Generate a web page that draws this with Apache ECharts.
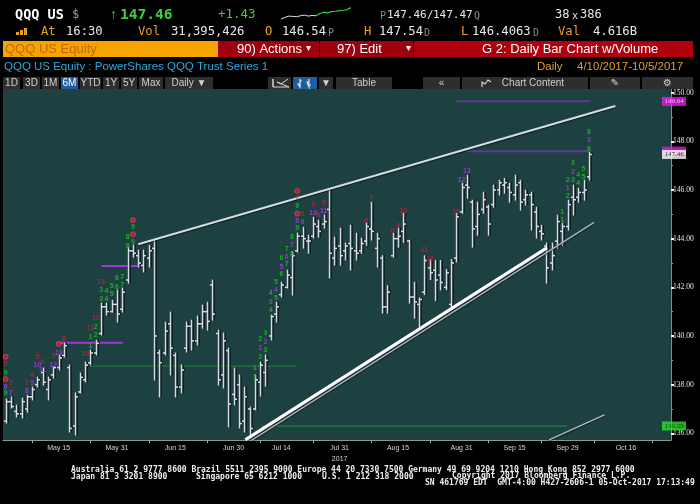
<!DOCTYPE html>
<html><head><meta charset="utf-8">
<script src="https://cdn.jsdelivr.net/npm/echarts@6/dist/echarts.min.js"></script>
<style>html,body{margin:0;padding:0;background:#000;overflow:hidden}#c{width:700px;height:504px}</style>
</head><body><div id="c"></div><script>
// ---------- DATA ----------
const tradingMonths = [
  ['May',[1,2,3,4,5,8,9,10,11,12,15,16,17,18,19,22,23,24,25,26,30,31]],
  ['Jun',[1,2,5,6,7,8,9,12,13,14,15,16,19,20,21,22,23,26,27,28,29,30]],
  ['Jul',[3,5,6,7,10,11,12,13,14,17,18,19,20,21,24,25,26,27,28,31]],
  ['Aug',[1,2,3,4,7,8,9,10,11,14,15,16,17,18,21,22,23,24,25,28,29,30,31]],
  ['Sep',[1,5,6,7,8,11,12,13,14,15,18,19,20,21,22,25,26,27,28,29]],
  ['Oct',[2,3,4,5,6,9,10,11,12,13,16,17,18,19,20,23,24,25,26]]
];
const categories = [];
tradingMonths.forEach(([m, ds]) => ds.forEach(d => categories.push(m + ' ' + d)));
const xTickLabels = ['May 15','May 31','Jun 15','Jun 30','Jul 14','Jul 31','Aug 15','Aug 31','Sep 15','Sep 29','Oct 16'];
const xTickMarks = [5,16,27,38,48,58,69,80,91,101,111,122];
const yTickLabels = [136,138,140,142,144,146,148,150];
const yMinorTicks = [137,139,141,143,145,147,149];

const opens  = [136.5,137.3,136.9,136.8,137.0,137.5,138.0,138.5,137.8,138.4,138.7,139.2,138.7,136.3,137.7,138.2,138.9,139.3,140.1,141.2,141.0,141.3,141.1,142.3,143.5,143.3,142.9,143.2,143.6,139.3,139.3,140.5,139.2,137.9,139.5,140.4,139.8,140.5,141.0,142.1,140.1,138.4,139.4,137.6,138.0,136.5,137.0,137.0,138.1,138.5,140.0,140.9,141.7,142.0,142.4,143.5,144.1,143.9,144.1,144.5,144.6,145.2,143.2,143.7,143.5,143.8,143.5,143.5,143.9,144.4,143.6,143.2,141.2,143.3,144.0,144.3,143.9,141.6,141.3,141.8,142.8,142.7,142.5,142.0,141.3,143.2,145.1,146.2,145.5,144.5,145.2,145.3,145.4,146.0,146.2,146.1,145.8,146.3,145.6,145.8,145.1,144.3,143.7,143.0,143.9,144.3,144.5,145.7,145.7,145.9,146.54];
const highs  = [137.41,137.49,137.16,137.45,137.57,137.90,138.31,138.68,138.31,138.72,139.22,139.71,138.81,137.66,138.48,138.93,139.42,139.83,141.35,141.35,141.47,141.89,141.97,143.65,143.73,143.53,143.53,143.73,143.94,139.42,140.57,140.98,139.30,138.81,140.57,140.65,140.82,141.27,141.39,142.30,140.24,140.12,139.50,138.68,138.40,137.90,137.08,138.40,138.93,139.22,140.86,141.39,142.21,142.71,143.45,144.23,144.47,144.14,144.88,144.76,144.97,145.99,144.06,144.43,143.82,144.55,144.22,144.02,144.63,145.50,144.22,143.30,142.07,144.22,144.43,145.04,143.94,142.21,141.56,143.30,143.14,143.10,143.10,142.73,143.14,145.04,146.28,146.61,145.58,145.50,145.91,145.38,146.20,146.40,146.48,146.28,146.61,146.40,145.99,145.91,145.29,144.55,143.82,143.82,144.97,144.63,145.58,146.20,146.07,146.40,147.54];
const lows   = [136.42,137.04,136.67,136.63,136.87,137.37,137.90,137.98,137.37,138.27,138.60,139.13,136.05,135.93,137.66,138.11,138.81,139.22,140.04,140.86,140.98,140.57,140.98,142.17,143.24,142.83,142.63,142.83,138.19,137.49,139.22,138.40,137.49,137.66,139.34,139.42,139.63,140.32,140.24,140.65,137.98,137.86,136.26,137.16,136.22,136.05,135.89,136.96,137.53,137.94,139.83,140.57,141.60,141.97,141.68,143.45,143.61,143.40,144.02,144.06,144.43,142.38,142.91,142.91,143.12,142.71,143.12,143.40,143.73,143.94,142.83,140.94,140.94,143.24,143.65,143.85,141.35,140.73,140.37,141.70,142.32,141.45,141.89,141.91,141.08,143.04,145.04,145.66,143.65,144.14,145.04,144.14,145.29,145.79,145.87,145.50,145.58,145.17,145.38,144.35,144.02,143.94,142.17,142.71,143.61,143.73,144.35,144.97,145.50,145.58,146.41];
const closes = [137.3,137.1,136.8,137.3,137.5,137.8,138.2,138.1,138.2,138.7,139.1,139.6,136.2,137.5,138.3,138.8,139.3,139.7,141.2,141.0,141.3,140.9,141.8,143.5,143.4,143.0,143.3,143.5,140.0,138.9,140.2,139.5,137.9,138.6,140.4,139.8,140.5,141.0,140.6,140.9,138.2,139.8,137.2,137.4,136.4,137.5,136.2,138.2,138.8,139.0,140.8,141.2,142.1,142.5,143.3,144.1,144.0,143.9,144.6,144.3,144.7,143.4,143.6,143.3,143.7,143.6,143.4,143.8,144.5,144.3,144.0,141.2,141.8,144.0,144.1,144.6,141.6,141.4,141.5,143.1,142.6,142.3,142.2,142.6,143.0,144.9,146.1,146.1,144.4,145.0,145.6,144.6,146.0,146.3,146.3,145.9,146.2,145.5,145.8,145.4,144.5,144.2,142.8,143.3,144.7,144.5,145.4,145.6,145.9,146.0,147.46];

// TD count annotations: [bar index, price level, text, colour key]
const tdLabels = [
[0,139.15,'•','r'],[0,138.83,'5','r'],[0,138.49,'9','g'],[0,138.23,'•','r'],[0,137.91,'6','p'],[0,137.64,'9','g'],
[1,138.08,'7','r'],[1,137.67,'7','p'],[4,138.08,'7','r'],[4,137.74,'8','p'],[5,138.39,'4','r'],[5,138.05,'9','p'],
[6,139.15,'5','r'],[6,138.80,'10','p'],[7,138.94,'6','r'],[7,138.60,'11','p'],[9,139.19,'7','r'],[9,138.80,'12','p'],
[10,139.67,'•','r'],[10,139.31,'13','p'],[11,139.86,'8','r'],[15,139.26,'10','r'],
[16,140.31,'11','r'],[16,139.97,'1','g'],[16,139.60,'1','g'],
[17,140.72,'12','r'],[17,140.38,'2','g'],[17,140.04,'2','g'],
[18,142.23,'13','r'],[18,141.89,'3','g'],[18,141.52,'3','g'],
[19,141.86,'4','g'],[19,141.50,'4','g'],[20,142.05,'5','g'],[20,141.72,'5','g'],
[21,142.37,'6','g'],[21,142.02,'6','g'],[22,142.43,'7','g'],[22,142.09,'7','g'],
[23,144.05,'8','g'],[23,143.69,'8','g'],
[24,144.76,'•','r'],[24,144.46,'9','g'],[24,144.18,'•','r'],[24,143.87,'9','g'],
[47,138.69,'1','g'],[47,138.32,'1','g'],
[48,139.87,'2','g'],[48,139.52,'1','p'],[48,139.15,'2','g'],
[49,140.11,'3','g'],[49,139.76,'2','p'],[49,139.42,'3','g'],
[50,141.75,'4','g'],[50,141.40,'3','p'],[50,141.06,'4','g'],
[51,142.23,'5','g'],[51,141.89,'4','p'],[51,141.57,'5','g'],
[52,143.19,'6','g'],[52,142.84,'5','p'],[52,142.53,'6','g'],
[53,143.57,'7','g'],[53,143.25,'6','p'],[53,142.94,'7','g'],
[54,144.07,'8','g'],[54,143.73,'7','p'],[54,143.36,'8','g'],
[55,145.96,'•','r'],[55,145.65,'7','r'],[55,145.34,'9','g'],[55,145.03,'•','r'],[55,144.73,'8','p'],[55,144.43,'9','g'],
[56,145.01,'5','r'],[56,144.67,'9','p'],[58,145.38,'5','r'],[58,145.06,'10','p'],[59,144.97,'6','r'],
[60,145.47,'5','r'],[60,145.13,'11','p'],
[68,144.73,'8','r'],[69,145.65,'7','r'],[73,144.32,'8','r'],[74,144.51,'9','r'],[75,145.14,'10','r'],
[79,143.53,'11','r'],[80,143.16,'12','r'],[85,145.10,'10','r'],[86,146.40,'12','p'],[87,146.79,'13','p'],
[105,145.08,'1','g'],[105,144.76,'1','g'],
[106,146.40,'2','g'],[106,146.09,'1','p'],[106,145.75,'2','g'],
[107,147.09,'3','g'],[107,146.74,'2','p'],[107,146.40,'3','g'],
[108,146.61,'4','g'],[108,146.27,'4','g'],[109,146.88,'5','g'],[109,146.54,'5','g'],
[110,148.39,'6','g'],[110,148.05,'3','p'],[110,147.70,'6','g']
];
// horizontal levels: [from index, to index, price, colour, width]
const levels = [
  [85, 110.3, 149.65, '#5a3c8c', 2],
  [87, 110.3, 147.59, '#5e3c90', 2],
  [18.1, 25.9, 142.88, '#a236d6', 2],
  [9.6, 22.1, 139.72, '#a236d6', 2],
  [15.9, 54.9, 138.76, '#23803a', 1],
  [48.3, 105.9, 136.30, '#23903c', 1]
];
// trend lines: [[x0,y0],[x1,y1]], colour, width
const trendLines = [
  [[[25,143.77],[115,149.45]], '#d4dce4', 2.2],
  [[[45.2,135.55],[111,144.67]], '#aab4bc', 1.5],
  [[[45.2,135.73],[102.1,143.62]], '#ffffff', 3.2],
  [[[102.5,135.73],[112.95,136.76]], '#aab8c0', 1.5]
];
// right-axis price tags: [price, text, background, text colour, height]
const priceTags = [
  [149.64, '149.64', '#e21ee2', '#ffd8ff', 9],
  [147.62, ' ', '#d01ed0', '#fff', 8],
  [147.46, '147.46', '#ffffff', '#000000', 9],
  [136.30, '136.29', '#2ee02e', '#083808', 9]
];
const sparkWhite = [3,8,12,11,10,13,15,12,14,13];
const sparkGreen = [13,20,24,22,26,27,29,30,32,38];

// ---------- CHART ----------
const MONO = "'DejaVu Sans Mono','Liberation Mono',monospace";
const SANS = "'Liberation Sans','DejaVu Sans',sans-serif";
const SERIF = "'Liberation Serif','DejaVu Serif',serif";
const tdColors = {g:'#22c22a', p:'#a83ee6', r:'#c4203a'};

const labelSet = new Set(xTickLabels.map(l => categories.indexOf(l)));
const tickSet = new Set(xTickMarks);
const yearIdx = categories.indexOf('Jul 31');

function T(x, y, text, fill, size, family, weight) {
  return {type:'text', x, y, z:10, style:{text, fill, fontSize:size, fontFamily:family||MONO, fontWeight:weight||'normal', verticalAlign:'middle', align:'left'}};
}
function R(x, y, w, h, fill) {
  return {type:'rect', shape:{x, y, width:w, height:h}, style:{fill}, z:5};
}
const graphic = [];
// row 1
graphic.push(T(15,15,'QQQ US','#ffffff',13.5,MONO,'bold'));
graphic.push(T(72,15,'$','#9a9a9a',12));
graphic.push(T(110,15,'↑','#3ad23a',14,SANS,'bold'));
graphic.push(T(120,15,'147.46','#3ad23a',14.5,MONO,'bold'));
graphic.push(T(218,15,'+1.43','#3ad23a',12.5));
graphic.push(T(380,16,'P','#8a8a8a',10));
graphic.push(T(387,15,'147.46','#e8e8e8',11));
graphic.push(T(427,15,'/','#e8e8e8',11));
graphic.push(T(433,15,'147.47','#e8e8e8',11));
graphic.push(T(474,16,'Q','#8a8a8a',10));
graphic.push(T(555,15,'38','#e8e8e8',12));
graphic.push(T(572,16,'x','#e8e8e8',10));
graphic.push(T(580,15,'386','#e8e8e8',12));
// row 2
graphic.push(R(16,32,3,3,'#e8a020'), R(20,30,3,5,'#e8a020'), R(24,28,3,7,'#e8a020'));
graphic.push(T(41,32,'At','#e8a020',12.2));
graphic.push(T(66,32,'16:30','#e8e8e8',12.2));
graphic.push(T(138,32,'Vol','#e8a020',12.2));
graphic.push(T(171,32,'31,395,426','#e8e8e8',12.2));
graphic.push(T(265,32,'O','#e8a020',12.2));
graphic.push(T(282,32,'146.54','#e8e8e8',12.2));
graphic.push(T(328,33,'P','#8a8a8a',10));
graphic.push(T(364,32,'H','#e8a020',12.2));
graphic.push(T(379,32,'147.54','#e8e8e8',12.2));
graphic.push(T(424,33,'D','#8a8a8a',10));
graphic.push(T(461,32,'L','#e8a020',12.2));
graphic.push(T(472,32,'146.4063','#e8e8e8',12.2));
graphic.push(T(533,33,'D','#8a8a8a',10));
graphic.push(T(558,32,'Val','#e8a020',12.2));
graphic.push(T(593,32,'4.616B','#e8e8e8',12.2));
// row 3
graphic.push(R(3,41,215,16,'#f7a400'));
graphic.push(R(218,41,101,16,'#a0000e'));
graphic.push(R(320,41,93,16,'#a0000e'));
graphic.push(R(414,41,279,16,'#b0000e'));
graphic.push(T(5,49,'QQQ US Equity','#c06a00',13,SANS));
graphic.push(T(237,49,'90) Actions','#ffffff',13,SANS));
graphic.push(T(306,48,'▾','#ffffff',10,SANS));
graphic.push(T(337,49,'97) Edit','#ffffff',13,SANS));
graphic.push(T(406,48,'▾','#ffffff',10,SANS));
graphic.push(T(482,49,'G 2: Daily Bar Chart w/Volume','#ffffff',13,SANS));
// row 4
graphic.push(T(4,67,'QQQ US Equity : PowerShares QQQ Trust Series 1','#2ea8e2',11.5,SANS));
graphic.push(T(537,67,'Daily','#e39c30',11.5,SANS));
graphic.push(T(577,67,'4/10/2017-10/5/2017','#e39c30',11.5,SANS));
// row 5 toolbar
const buttons = [['1D',3,17],['3D',23,17],['1M',42,17],['6M',61,17,1],['YTD',80,21],['1Y',103,16],['5Y',121,16],['Max',139,24],['Daily ▼',165,48],['',268,23],['',293,24,1],['▼',319,14],['Table',336,56],['«',423,37],['Chart Content',462,126],['✎',590,50],['⚙',642,51]];
buttons.forEach(b => {
  graphic.push(R(b[1],77,b[2],12,b[3]?'#1f5e9e':'#2e2e2e'));
  if (b[0]) graphic.push({type:'text', x:b[1]+b[2]/2 + (b[0]==='Chart Content'?8:0), y:83, z:10, style:{text:b[0], fill:b[3]?'#ffffff':'#cfcfcf', fontSize:10, fontFamily:SANS, align:'center', verticalAlign:'middle'}});
});
graphic.push({type:'polyline', z:10, shape:{points:[[273,87],[273,79],[273,87],[289,87],[277,82],[281,84],[288,79]]}, style:{stroke:'#d8d8d8', lineWidth:1, fill:null}});
graphic.push({type:'polyline', z:10, shape:{points:[[300,79],[300,87],[298,84],[300,84],[300,81],[302,81]]}, style:{stroke:'#e8e8e8', lineWidth:1.2, fill:null}});
graphic.push({type:'polyline', z:10, shape:{points:[[309,79],[309,87],[307,82],[309,82],[309,85],[311,85]]}, style:{stroke:'#e8e8e8', lineWidth:1.2, fill:null}});
graphic.push({type:'polyline', z:10, shape:{points:[[482,87],[482,82],[485,84],[488,80],[491,82]]}, style:{stroke:'#d8d8d8', lineWidth:1.2, fill:null}});
// footer
graphic.push(T(71,470,'Australia 61 2 9777 8600 Brazil 5511 2395 9000 Europe 44 20 7330 7500 Germany 49 69 9204 1210 Hong Kong 852 2977 6000','#f0f0f0',8,MONO,'bold'));
graphic.push(T(71,476.5,'Japan 81 3 3201 8900','#f0f0f0',8,MONO,'bold'));
graphic.push(T(196,476.5,'Singapore 65 6212 1000','#f0f0f0',8,MONO,'bold'));
graphic.push(T(322,476.5,'U.S. 1 212 318 2000','#f0f0f0',8,MONO,'bold'));
graphic.push(T(452,475.5,'Copyright 2017 Bloomberg Finance L.P.','#f0f0f0',8,MONO,'bold'));
graphic.push(T(425,483,'SN 461769 EDT  GMT-4:00 H427-2606-1 05-Oct-2017 17:13:49','#f0f0f0',8,MONO,'bold'));

function renderOHLC(params, api) {
  const i = api.value(0);
  const o = api.coord([i, api.value(1)]);
  const h = api.coord([i, api.value(2)]);
  const l = api.coord([i, api.value(3)]);
  const c = api.coord([i, api.value(4)]);
  const x = Math.round(h[0]) + 0.5;
  const tw = 2.5;
  const segs = [[x,h[1]-0.5,x,l[1]+0.5],[x-tw,o[1],x,o[1]],[x,c[1],x+tw,c[1]]];
  const children = [];
  segs.forEach(s => children.push({type:'line', shape:{x1:s[0]+0.6,y1:s[1],x2:s[2]+0.6,y2:s[3]}, style:{stroke:'#061313', lineWidth:3.2}}));
  segs.forEach(s => children.push({type:'line', shape:{x1:s[0],y1:s[1],x2:s[2],y2:s[3]}, style:{stroke:'#d2dce8', lineWidth:1.6}}));
  return {type:'group', children};
}

const series = [];
levels.forEach(lv => series.push({
  type:'line', xAxisIndex:1, yAxisIndex:0, data:[[lv[0],lv[2]],[lv[1],lv[2]]],
  symbol:'none', silent:true, animation:false, z:2,
  lineStyle:{color:lv[3], width:lv[4]}
}));
series.push({
  type:'custom', xAxisIndex:0, yAxisIndex:0, z:4, animation:false, silent:true,
  data: opens.map((o,i) => [i, o, highs[i], lows[i], closes[i]]),
  encode:{x:0, y:[1,2,3,4]}, renderItem: renderOHLC
});
trendLines.forEach(t => series.push({
  type:'line', xAxisIndex:1, yAxisIndex:0, data:t[0], symbol:'none', silent:true, animation:false, z:5,
  lineStyle:{color:t[1], width:t[2], shadowColor:'rgba(0,0,0,0.6)', shadowBlur:1, shadowOffsetY:1}
}));
series.push({
  type:'scatter', xAxisIndex:0, yAxisIndex:0, z:7, animation:false, silent:true,
  symbol:'circle', symbolSize:1, itemStyle:{color:'rgba(0,0,0,0)'},
  data: tdLabels.filter(d => d[2] !== '•').map(d => ({value:[d[0], d[1]], name:d[2], label:{color:tdColors[d[3]]}})),
  label:{show:true, position:'inside', formatter:'{b}', fontSize:7, fontWeight:'bold', fontFamily:SANS}
});
series.push({
  type:'scatter', xAxisIndex:0, yAxisIndex:0, z:7, animation:false, silent:true,
  symbol:'circle', symbolSize:5, itemStyle:{color:'#e0142a', borderColor:'#ff7080', borderWidth:0.5},
  data: tdLabels.filter(d => d[2] === '•').map(d => [d[0], d[1]])
});
priceTags.forEach((t, k) => series.push({
  type:'scatter', xAxisIndex:1, yAxisIndex:0, z:8 + k, clip:false, animation:false, silent:true,
  symbol:'triangle', symbolRotate:90, symbolSize:[5,4],
  itemStyle:{color:t[2]},
  data:[[125.5, t[0]]],
  label:{show:true, position:'right', distance:1, formatter:t[1], backgroundColor:t[2], color:t[3],
    fontSize:7, fontFamily:SERIF, padding:[1,2,0,2], height:t[4]-1, lineHeight:t[4]-1, width:20, align:'center'}
}));
series.push({type:'line', xAxisIndex:2, yAxisIndex:2, data:sparkWhite.map((v,i)=>[i,v]), symbol:'none', lineStyle:{color:'#e0e0e0', width:1}, animation:false, silent:true});
series.push({type:'line', xAxisIndex:2, yAxisIndex:2, data:sparkGreen.map((v,i)=>[i+sparkWhite.length-1,v]), symbol:'none', lineStyle:{color:'#2fd22f', width:1.2}, animation:false, silent:true});

const option = {
  backgroundColor:'#000000',
  animation:false,
  graphic,
  grid:[
    {left:3, right:29, top:89, bottom:64, show:true, backgroundColor:'#1d4140', borderWidth:0},
    {left:281, top:7, width:70, height:13, show:false}
  ],
  xAxis:[
    {type:'category', gridIndex:0, data:categories, boundaryGap:true,
      axisLine:{show:true, onZero:false, lineStyle:{color:'#8a9898', width:1}},
      axisTick:{show:true, interval:(idx)=>tickSet.has(idx), alignWithLabel:true, length:3, lineStyle:{color:'#b0b0b0'}},
      axisLabel:{show:true, interval:(idx)=>labelSet.has(idx), color:'#d8d8d8', fontSize:7, fontFamily:SANS, margin:3, lineHeight:11,
        formatter:(v, idx)=> idx === yearIdx ? v + '\n2017' : v},
      splitLine:{show:false}},
    {type:'value', gridIndex:0, min:-0.5, max:125.5, show:false, axisLine:{onZero:false}},
    {type:'value', gridIndex:1, min:0, max:sparkWhite.length + sparkGreen.length - 2, show:false, axisLine:{onZero:false}}
  ],
  yAxis:[
    {type:'value', gridIndex:0, position:'right', min:135.725, max:150.15,
      axisLine:{show:true, onZero:false, lineStyle:{color:'#7e8c8c', width:1}},
      axisTick:{show:true, customValues:yTickLabels, length:3, lineStyle:{color:'#f2f2f2', width:2}},
      axisLabel:{show:true, customValues:yTickLabels, formatter:(v)=>Number(v).toFixed(2), color:'#e8e8e8', fontSize:7.5, fontFamily:SERIF, margin:2},
      splitLine:{show:false}},
    {type:'value', gridIndex:0, position:'right', min:135.725, max:150.15,
      axisLine:{show:false, onZero:false}, axisLabel:{show:false}, splitLine:{show:false},
      axisTick:{show:true, customValues:yMinorTicks, length:2, lineStyle:{color:'#9aa4a4', width:1}}},
    {type:'value', gridIndex:1, min:0, max:40, show:false, axisLine:{onZero:false}}
  ],
  series
};
const chart = echarts.init(document.getElementById('c'), null, {renderer:'canvas'});
chart.setOption(option);
</script></body></html>
